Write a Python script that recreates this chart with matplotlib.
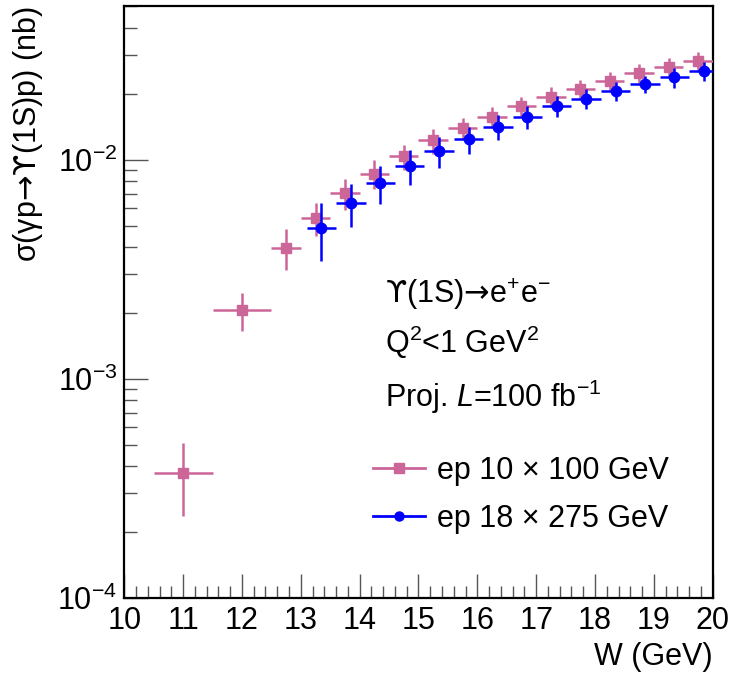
import matplotlib
matplotlib.use('Agg')
import matplotlib.pyplot as plt
import numpy as np
from matplotlib import rc
from matplotlib.lines import Line2D
from matplotlib.ticker import LogLocator, MultipleLocator, NullFormatter

rc('font', **{'family': ['Liberation Sans', 'DejaVu Sans']})
# sf slot is used only for the upsilon / arrow glyphs
rc('mathtext', fontset='custom', rm='Liberation Sans', it='Liberation Sans:italic',
   sf='DejaVu Sans', bf='Liberation Sans:bold')

# ep 10x100 GeV
w_10x100 = [11, 12, 12.75, 13.25, 13.75, 14.25, 14.75, 15.25, 15.75,
            16.25, 16.75, 17.25, 17.75, 18.25, 18.75, 19.25, 19.75]
werr_10x100 = [0.5, 0.5, 0.25, 0.25, 0.25, 0.25, 0.25, 0.25, 0.25,
               0.25, 0.25, 0.25, 0.25, 0.25, 0.25, 0.25, 0.25]
xs_10x100 = [3.72e-4, 2.06e-3, 3.97e-3, 5.40e-3, 7.01e-3, 8.63e-3, 1.035e-2, 1.225e-2, 1.40e-2,
             1.57e-2, 1.75e-2, 1.94e-2, 2.11e-2, 2.29e-2, 2.48e-2, 2.65e-2, 2.82e-2]
xserr_10x100 = [1.36e-4, 0.41e-3, 0.83e-3, 0.92e-3, 1.12e-3, 1.29e-3, 1.35e-3, 1.59e-3, 1.54e-3,
                1.73e-3, 1.75e-3, 1.94e-3, 2.1e-3, 2.3e-3, 2.5e-3, 2.65e-3, 2.8e-3]

# ep 18x275 GeV
w_18x275 = [13.35, 13.85, 14.35, 14.85, 15.35, 15.85, 16.35,
            16.85, 17.35, 17.85, 18.35, 18.85, 19.35, 19.85]
werr_18x275 = [0.25, 0.25, 0.25, 0.25, 0.25, 0.25, 0.25,
               0.25, 0.25, 0.25, 0.25, 0.25, 0.25, 0.25]
xs_18x275 = [4.89e-3, 6.35e-3, 7.83e-3, 9.33e-3, 1.09e-2, 1.24e-2, 1.41e-2,
             1.57e-2, 1.75e-2, 1.90e-2, 2.06e-2, 2.22e-2, 2.37e-2, 2.54e-2]
xserr_18x275 = [1.45e-3, 1.4e-3, 1.57e-3, 1.68e-3, 1.74e-3, 1.74e-3, 1.83e-3,
                1.88e-3, 1.93e-3, 1.9e-3, 2.06e-3, 2.0e-3, 2.37e-3, 2.54e-3]

labels = ['ep 10 × 100 GeV', 'ep 18 × 275 GeV']
pink = '#CC6699'
blue = '#0000FF'
fs = 22


def upsilon_plot():
    fig = plt.figure(figsize=(7.31, 6.79), dpi=100)
    ax = fig.add_axes([0.170, 0.1193, 0.805, 0.8718])

    ax.errorbar(w_10x100, xs_10x100, xerr=werr_10x100, yerr=xserr_10x100,
                fmt='s', color=pink, ms=7.5, elinewidth=1.8, capsize=0, zorder=3)
    ax.errorbar(w_18x275, xs_18x275, xerr=werr_18x275, yerr=xserr_18x275,
                fmt='o', color=blue, ms=7.5, elinewidth=1.8, capsize=0, zorder=4)

    ax.set_yscale('log')
    ax.set_xlim(10, 20)
    ax.set_ylim(1e-4, 0.0502)

    ax.xaxis.set_major_locator(MultipleLocator(1))
    ax.xaxis.set_minor_locator(MultipleLocator(0.2))
    ax.yaxis.set_major_locator(LogLocator(base=10, numticks=10))
    ax.yaxis.set_minor_locator(LogLocator(base=10, subs=np.arange(2, 10), numticks=20))
    ax.yaxis.set_minor_formatter(NullFormatter())

    ax.tick_params(which='both', direction='in', top=False, right=False,
                   labelsize=fs, width=1, color='#555555')
    ax.tick_params(which='major', length=17)
    ax.tick_params(which='minor', length=9)
    ax.tick_params(axis='x', pad=6)
    ax.tick_params(axis='y', pad=5)

    for s in ax.spines.values():
        s.set_linewidth(1.6)

    ax.set_xlabel('W (GeV)', fontsize=fs, loc='right')
    ax.xaxis.set_label_coords(1.0, -0.075)
    ax.set_ylabel('σ(γp$\\mathsf{→ϒ}$(1S)p) (nb)', fontsize=fs, loc='top')
    ax.yaxis.set_label_coords(-0.135, 1.0)

    ax.text(0.443, 0.498, '$\\mathsf{ϒ}$(1S)$\\mathsf{→}$e$^{+}$e$^{-}$', fontsize=fs,
            transform=ax.transAxes, va='baseline')
    ax.text(0.443, 0.414, 'Q$^{2}$<1 GeV$^{2}$', fontsize=fs,
            transform=ax.transAxes, va='baseline')
    ax.text(0.443, 0.323, 'Proj. $\\mathit{L}$=100 fb$^{-1}$', fontsize=fs,
            transform=ax.transAxes, va='baseline')

    handles = [Line2D([], [], color=pink, marker='s', ms=7.5, lw=2),
               Line2D([], [], color=blue, marker='o', ms=6.5, lw=2)]
    ax.legend(handles, labels, fontsize=fs, frameon=False, loc='center left',
              bbox_to_anchor=(0.422, 0.1745), borderaxespad=0, borderpad=0,
              handlelength=1.73, handletextpad=0.37, labelspacing=0.6)

    fig.savefig('out.png', dpi=100)


upsilon_plot()
